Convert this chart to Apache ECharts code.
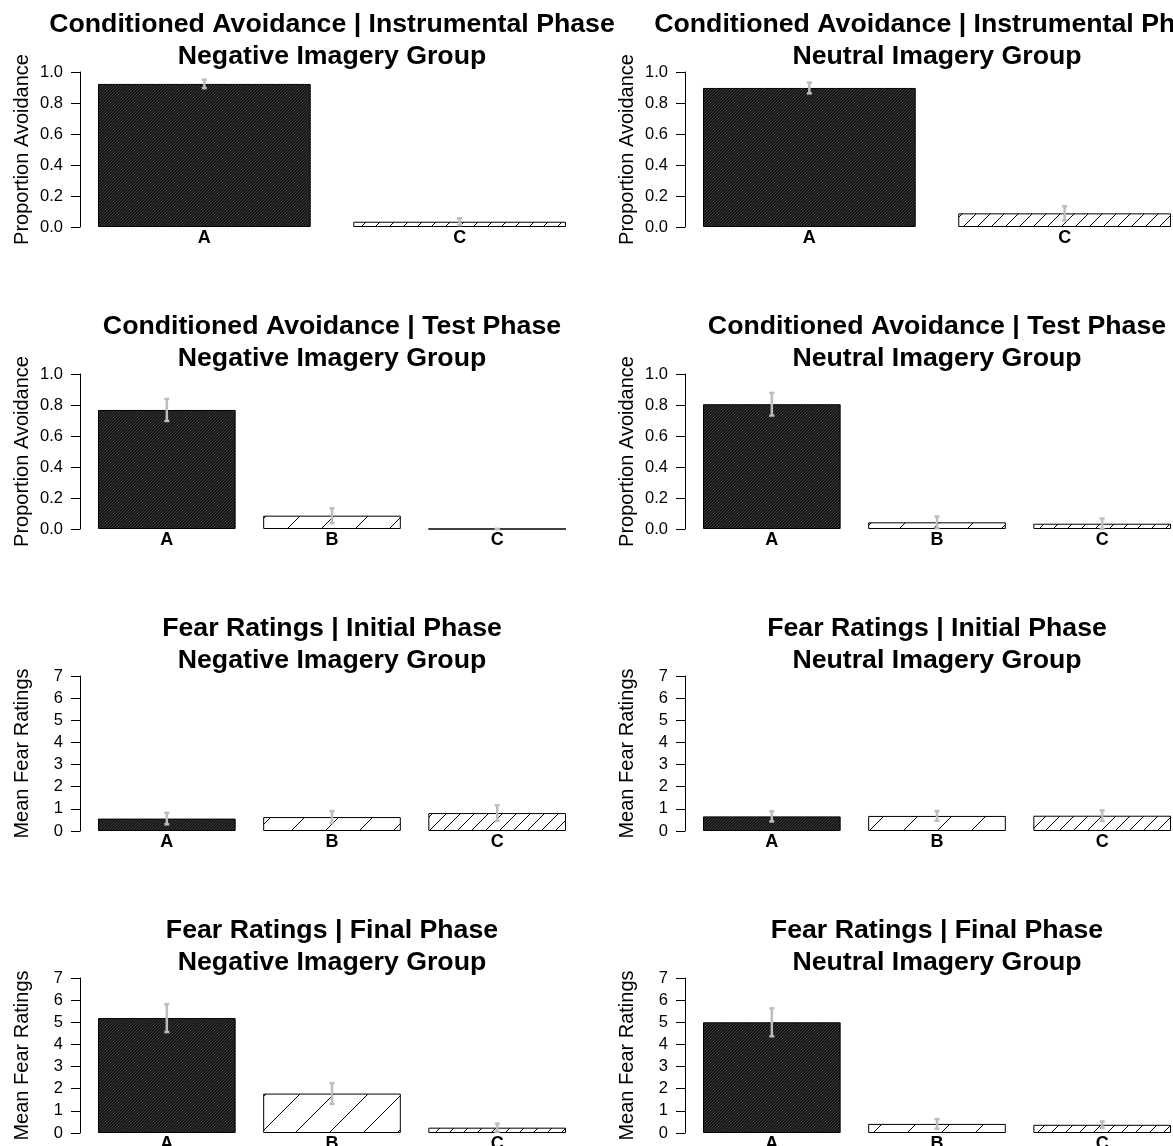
<!DOCTYPE html>
<html><head><meta charset="utf-8">
<script src="https://cdn.jsdelivr.net/npm/echarts@6/dist/echarts.min.js"></script>
<style>html,body{margin:0;padding:0;background:#fff}#c{width:1173px;height:1146px}</style>
</head><body><div id="c"></div>
<script>
// ---- data ----
const cats2 = ['A', 'C'];
const cats3 = ['A', 'B', 'C'];
const phaseTitles = ['Conditioned Avoidance | Instrumental Phase', 'Conditioned Avoidance | Test Phase', 'Fear Ratings | Initial Phase', 'Fear Ratings | Final Phase'];
const groupTitles = ['Negative Imagery Group', 'Neutral Imagery Group'];
const yAxisNames = ['Proportion Avoidance', 'Proportion Avoidance', 'Mean Fear Ratings', 'Mean Fear Ratings'];
const avoidScale = { max: 1, interval: 0.2, decimals: 1 };
const fearScale = { max: 7, interval: 1, decimals: 0 };

const instrNegMean = [0.923, 0.034];
const instrNegSE = [0.027, 0.022];
const instrNeuMean = [0.897, 0.088];
const instrNeuSE = [0.035, 0.046];
const testNegMean = [0.768, 0.086, 0.0];
const testNegSE = [0.071, 0.048, 0.0];
const testNeuMean = [0.805, 0.043, 0.034];
const testNeuSE = [0.073, 0.038, 0.034];
const initNegMean = [0.56, 0.63, 0.81];
const initNegSE = [0.26, 0.27, 0.35];
const initNeuMean = [0.66, 0.68, 0.69];
const initNeuSE = [0.23, 0.22, 0.24];
const finalNegMean = [5.19, 1.78, 0.24];
const finalNegSE = [0.63, 0.47, 0.18];
const finalNeuMean = [5.00, 0.41, 0.37];
const finalNeuSE = [0.63, 0.22, 0.15];

const panels = [
  [{ cats: cats2, mean: instrNegMean, se: instrNegSE }, { cats: cats2, mean: instrNeuMean, se: instrNeuSE }],
  [{ cats: cats3, mean: testNegMean, se: testNegSE }, { cats: cats3, mean: testNeuMean, se: testNeuSE }],
  [{ cats: cats3, mean: initNegMean, se: initNegSE }, { cats: cats3, mean: initNeuMean, se: initNeuSE }],
  [{ cats: cats3, mean: finalNegMean, se: finalNegSE }, { cats: cats3, mean: finalNeuMean, se: finalNeuSE }]
];
const rowScales = [avoidScale, avoidScale, fearScale, fearScale];

// ---- patterns ----
function hatch(size, bg, fg, lw) {
  const cv = document.createElement('canvas');
  cv.width = size; cv.height = size;
  const ctx = cv.getContext('2d');
  ctx.fillStyle = bg; ctx.fillRect(0, 0, size, size);
  ctx.strokeStyle = fg; ctx.lineWidth = lw;
  ctx.beginPath();
  for (const o of [-size, 0, size]) { ctx.moveTo(o, size); ctx.lineTo(o + size, 0); }
  ctx.stroke();
  return cv;
}
const patterns = {
  A: { image: hatch(3, '#141414', '#444444', 0.9), repeat: 'repeat' },
  B: { image: hatch(34, '#ffffff', '#000000', 1), repeat: 'repeat' },
  C: { image: hatch(14, '#ffffff', '#000000', 1), repeat: 'repeat' }
};

// ---- layout ----
const FONT = 'Liberation Sans, Arial, Helvetica, sans-serif';
const ROW_STEP = 302, COL_STEP = 605;
const title = [], grid = [], xAxis = [], yAxis = [], series = [];
let idx = 0;
for (let r = 0; r < 4; r++) {
  for (let c = 0; c < 2; c++) {
    const p = panels[r][c];
    const sc = rowScales[r];
    const n = p.cats.length;
    const barStart = 98 + COL_STEP * c;
    const w = 468 / (n + 0.2 * (n - 1));
    const gap = 0.2 * w;
    const gridLeft = barStart - gap / 2;
    const gridWidth = (w + gap) * n;
    const axisX = 80 + COL_STEP * c;
    const top = 72 + ROW_STEP * r;
    const bottom = 227 + ROW_STEP * r;
    title.push({
      text: phaseTitles[r] + '\n' + groupTitles[c],
      left: 332 + COL_STEP * c, top: 9 + ROW_STEP * r, textAlign: 'center', padding: 0,
      textStyle: { fontFamily: FONT, fontWeight: 'bold', fontSize: 26.7, lineHeight: 32, color: '#000' }
    });
    grid.push({ left: gridLeft, width: gridWidth, top: top, height: bottom - top, outerBoundsMode: 'none', containLabel: false });
    xAxis.push({
      type: 'category', gridIndex: idx, data: p.cats,
      axisLine: { show: false }, axisTick: { show: false },
      axisLabel: { color: '#000', fontFamily: FONT, fontWeight: 'bold', fontSize: 18, margin: 2 }
    });
    yAxis.push({
      type: 'value', gridIndex: idx, min: 0, max: sc.max, interval: sc.interval,
      offset: gridLeft - axisX,
      splitLine: { show: false },
      axisLine: { show: true, lineStyle: { color: '#000', width: 1 } },
      axisTick: { show: true, length: 9, lineStyle: { color: '#000' } },
      axisLabel: { color: '#000', fontFamily: FONT, fontSize: 16.5, margin: 17,
        formatter: v => v.toFixed(sc.decimals) },
      name: yAxisNames[r], nameLocation: 'middle', nameRotate: 90, nameGap: 48,
      nameTextStyle: { color: '#000', fontFamily: FONT, fontSize: 20 }
    });
    series.push({
      type: 'bar', xAxisIndex: idx, yAxisIndex: idx, barWidth: w,
      data: p.mean.map((v, i) => ({
        value: v,
        itemStyle: { color: patterns[p.cats[i]], borderColor: '#000', borderWidth: 1 }
      })),
      animation: false, silent: true
    });
    series.push({
      type: 'custom', xAxisIndex: idx, yAxisIndex: idx, z: 5,
      data: p.mean.map((v, i) => [i, v - p.se[i], v + p.se[i]]),
      renderItem: (params, api) => {
        const lo = api.coord([api.value(0), api.value(1)]);
        const hi = api.coord([api.value(0), api.value(2)]);
        const st = { stroke: '#bdbdbd', lineWidth: 2.5 };
        return { type: 'group', children: [
          { type: 'line', shape: { x1: lo[0], y1: lo[1], x2: hi[0], y2: hi[1] }, style: st },
          { type: 'line', shape: { x1: lo[0] - 2.5, y1: lo[1], x2: lo[0] + 2.5, y2: lo[1] }, style: st },
          { type: 'line', shape: { x1: hi[0] - 2.5, y1: hi[1], x2: hi[0] + 2.5, y2: hi[1] }, style: st }
        ] };
      },
      animation: false, silent: true
    });
    idx++;
  }
}

const chart = echarts.init(document.getElementById('c'), null, { renderer: 'canvas' });
chart.setOption({ animation: false, backgroundColor: '#fff', title, grid, xAxis, yAxis, series });
</script>
</body></html>
